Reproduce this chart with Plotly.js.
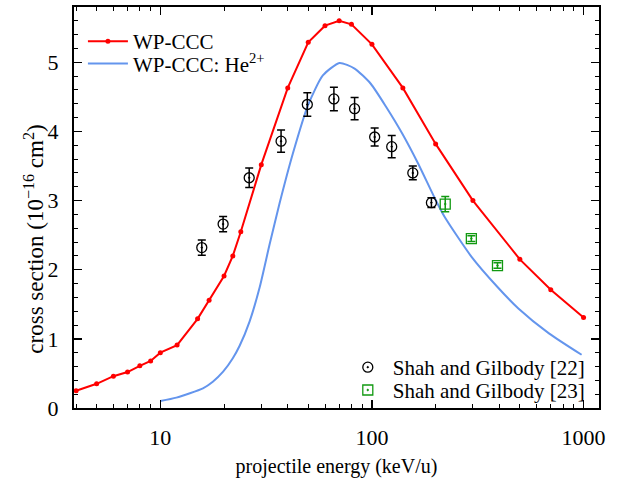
<!DOCTYPE html>
<html><head><meta charset="utf-8">
<script src="https://cdn.plot.ly/plotly-3.0.1.min.js"></script>
<style>html,body{margin:0;padding:0;background:#fff}#chart{width:619px;height:478px}</style>
</head><body><div id="chart"></div>
<script>
// WP-CCC (red, with points)
const wpEnergy = [4,5,6,7,8,9,10,12,15,17,20,22,24,30,40,50,60,70,80,100,140,200,300,500,700,1000];
const wpSigma  = [0.25,0.35,0.46,0.52,0.61,0.68,0.80,0.91,1.29,1.56,1.91,2.20,2.55,3.52,4.63,5.29,5.53,5.60,5.55,5.26,4.63,3.82,3.00,2.15,1.71,1.31];
// WP-CCC: He2+ (blue curve)
const heEnergy = [10,11.9,15.9,17.7,19.8,22,23.7,26.4,29.5,32.8,36.6,42.3,49.9,58.6,70.2,82.8,98.7,117,139,165,197,220,295,392,492,686,979];
const heSigma  = [0.10,0.15,0.285,0.38,0.525,0.72,0.90,1.25,1.75,2.36,2.96,3.68,4.38,4.81,4.99,4.91,4.69,4.35,3.97,3.54,3.05,2.77,2.19,1.75,1.44,1.08,0.77];
// Shah and Gilbody [22]
const sg22Energy = [15.7,19.8,26.3,37.2,49.5,66.1,82.8,103,124,156,191];
const sg22Sigma  = [2.32,2.66,3.33,3.86,4.39,4.47,4.33,3.92,3.78,3.40,2.97];
const sg22Err    = [0.11,0.11,0.14,0.16,0.17,0.17,0.16,0.13,0.16,0.10,0.07];
// Shah and Gilbody [23]
const sg23Energy = [222,295,392];
const sg23Sigma  = [2.95,2.45,2.06];
const sg23Err    = [0.11,0.04,0.04];
// axis ticks
const xTickVals = [10,100,1000];
const xTickText = ['10','100','1000'];
const xMinorVals = [4,5,6,7,8,9,20,30,40,50,60,70,80,90,200,300,400,500,600,700,800,900];
const yTickVals = [0,1,2,3,4,5];

const FONT = '"Liberation Serif", "Times New Roman", serif';

const traces = [
  {x: wpEnergy, y: wpSigma, name: 'WP-CCC', type: 'scatter', mode: 'lines+markers',
   line: {color: '#ff0000', width: 2}, marker: {color: '#ff0000', size: 5}, legend: 'legend'},
  {x: heEnergy, y: heSigma, name: 'WP-CCC: He<sup>2+</sup>', type: 'scatter', mode: 'lines',
   line: {color: '#6495ed', width: 2, shape: 'spline', smoothing: 0.6}, legend: 'legend2'},
  {x: sg22Energy, y: sg22Sigma, name: 'Shah and Gilbody [22]', type: 'scatter', mode: 'markers',
   marker: {symbol: 'circle-open-dot', size: 10, color: '#000', line: {width: 1.3}},
   error_y: {type: 'data', array: sg22Err, visible: true, color: '#000', thickness: 1.5, width: 4},
   legend: 'legend3'},
  {x: sg23Energy, y: sg23Sigma, name: 'Shah and Gilbody [23]', type: 'scatter', mode: 'markers',
   marker: {symbol: 'square-open-dot', size: 10, color: '#119911', line: {width: 1.3}},
   error_y: {type: 'data', array: sg23Err, visible: true, color: '#119911', thickness: 1.5, width: 4},
   legend: 'legend4'}
];

const axisCommon = {
  showline: true, linecolor: '#000', linewidth: 2, mirror: 'allticks',
  ticks: 'inside', ticklen: 8, tickwidth: 1.5, tickcolor: '#000',
  showgrid: false, zeroline: false, ticklabelstandoff: 9,
  tickfont: {family: FONT, size: 22, color: '#000'}
};

function legendAt(x, y) {
  return {x: x, xanchor: 'left', y: y, yanchor: 'middle', bgcolor: 'rgba(0,0,0,0)',
    font: {family: FONT, size: 21, color: '#000'}, tracegroupgap: 0, itemwidth: 40};
}

const layout = {
  width: 619, height: 478,
  margin: {l: 74, r: 20, t: 7, b: 70},
  paper_bgcolor: '#fff', plot_bgcolor: '#fff',
  font: {family: FONT, size: 21, color: '#000'},
  xaxis: Object.assign({}, axisCommon, {
    type: 'log', range: [0.592, 3.073],
    tickmode: 'array', tickvals: xTickVals, ticktext: xTickText,
    minor: {tickmode: 'array', tickvals: xMinorVals, ticks: 'inside', ticklen: 4, tickwidth: 1, tickcolor: '#000'},
    title: {text: 'projectile energy (keV/u)', font: {family: FONT, size: 20, color: '#000'}, standoff: 10}
  }),
  yaxis: Object.assign({}, axisCommon, {
    range: [0, 5.8], tickmode: 'array', tickvals: yTickVals,
    minor: {dtick: 0.2, tick0: 0, ticks: 'inside', ticklen: 4, tickwidth: 1, tickcolor: '#000'}
  }),
  annotations: [{
    text: 'cross section (10<sup>\u221216</sup> cm<sup>2</sup>)', textangle: -90,
    xref: 'paper', yref: 'paper', x: -0.076, y: 0.42, xanchor: 'center', yanchor: 'middle',
    showarrow: false, font: {family: FONT, size: 23, color: '#000'}
  }],
  showlegend: true,
  legend: legendAt(0.017, 0.914),
  legend2: legendAt(0.017, 0.858),
  legend3: legendAt(0.512, 0.101),
  legend4: legendAt(0.512, 0.044)
};

Plotly.newPlot('chart', traces, layout, {displayModeBar: false, staticPlot: true});
</script>
</body></html>
